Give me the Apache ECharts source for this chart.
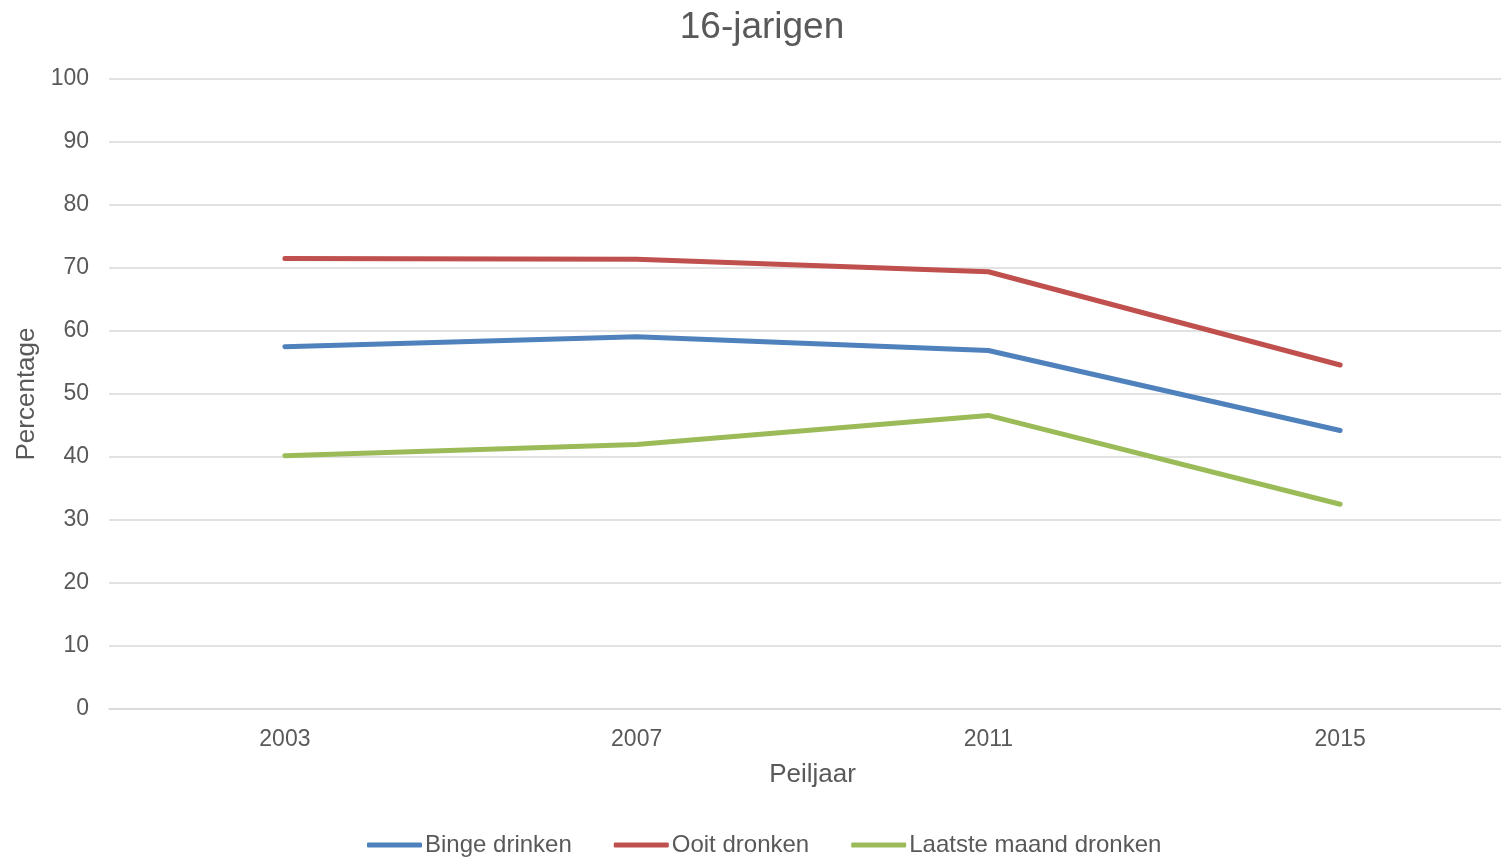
<!DOCTYPE html>
<html>
<head>
<meta charset="utf-8">
<script src="https://cdn.jsdelivr.net/npm/echarts@6/dist/echarts.min.js"></script>
<style>
html,body{margin:0;padding:0;background:#fff;overflow:hidden;}
#c{width:1520px;height:859px;}
</style>
</head>
<body>
<div id="c"></div>
<script>
const years = ['2003', '2007', '2011', '2015'];
const bingeDrinken = [57.5, 59.1, 56.9, 44.2];
const ooitDronken = [71.5, 71.4, 69.4, 54.6];
const laatsteMaandDronken = [40.2, 42.0, 46.6, 32.5];
const seriesNames = ['Binge drinken', 'Ooit dronken', 'Laatste maand dronken'];
const colors = ['#4F81BD', '#C0504D', '#9BBB59'];

const font = 'Liberation Sans, Arial, sans-serif';
const txt = '#595959';
const chart = echarts.init(document.getElementById('c'));
const dataSets = [bingeDrinken, ooitDronken, laatsteMaandDronken];
chart.setOption({
  animation: false,
  title: {
    text: '16-jarigen',
    left: 757, top: 4, textAlign: 'center',
    textStyle: { fontFamily: font, fontSize: 37, fontWeight: 'normal', color: txt }
  },
  legend: {
    data: seriesNames,
    left: 362, top: 828,
    icon: 'roundRect',
    itemWidth: 55, itemHeight: 5, itemGap: 42,
    textStyle: { fontFamily: font, fontSize: 24, color: txt, padding: [0, 0, 0, -2] }
  },
  grid: { left: 109, top: 79, width: 1407, height: 630, containLabel: false },
  xAxis: {
    type: 'category',
    data: years,
    boundaryGap: true,
    name: 'Peiljaar',
    nameLocation: 'middle',
    nameGap: 53,
    nameTextStyle: { fontFamily: font, fontSize: 26, color: txt },
    axisLine: { show: true, lineStyle: { color: '#D9D9D9', width: 1.5 } },
    axisTick: { show: false },
    axisLabel: { fontFamily: font, fontSize: 23, color: txt, margin: 19 }
  },
  yAxis: {
    type: 'value',
    min: 0, max: 100, interval: 10,
    name: 'Percentage',
    nameLocation: 'middle',
    nameGap: 69,
    nameTextStyle: { fontFamily: font, fontSize: 26, color: txt },
    axisLine: { show: false },
    axisTick: { show: false },
    axisLabel: { fontFamily: font, fontSize: 23, color: txt, margin: 20, padding: [4, 0, 0, 0] },
    splitLine: { lineStyle: { color: '#D9D9D9', width: 1.5 } }
  },
  series: seriesNames.map((n, i) => ({
    name: n,
    type: 'line',
    data: dataSets[i],
    showSymbol: false,
    symbol: 'none',
    color: colors[i],
    lineStyle: { width: 5, color: colors[i], cap: 'round', join: 'round' }
  }))
});
</script>
</body>
</html>
